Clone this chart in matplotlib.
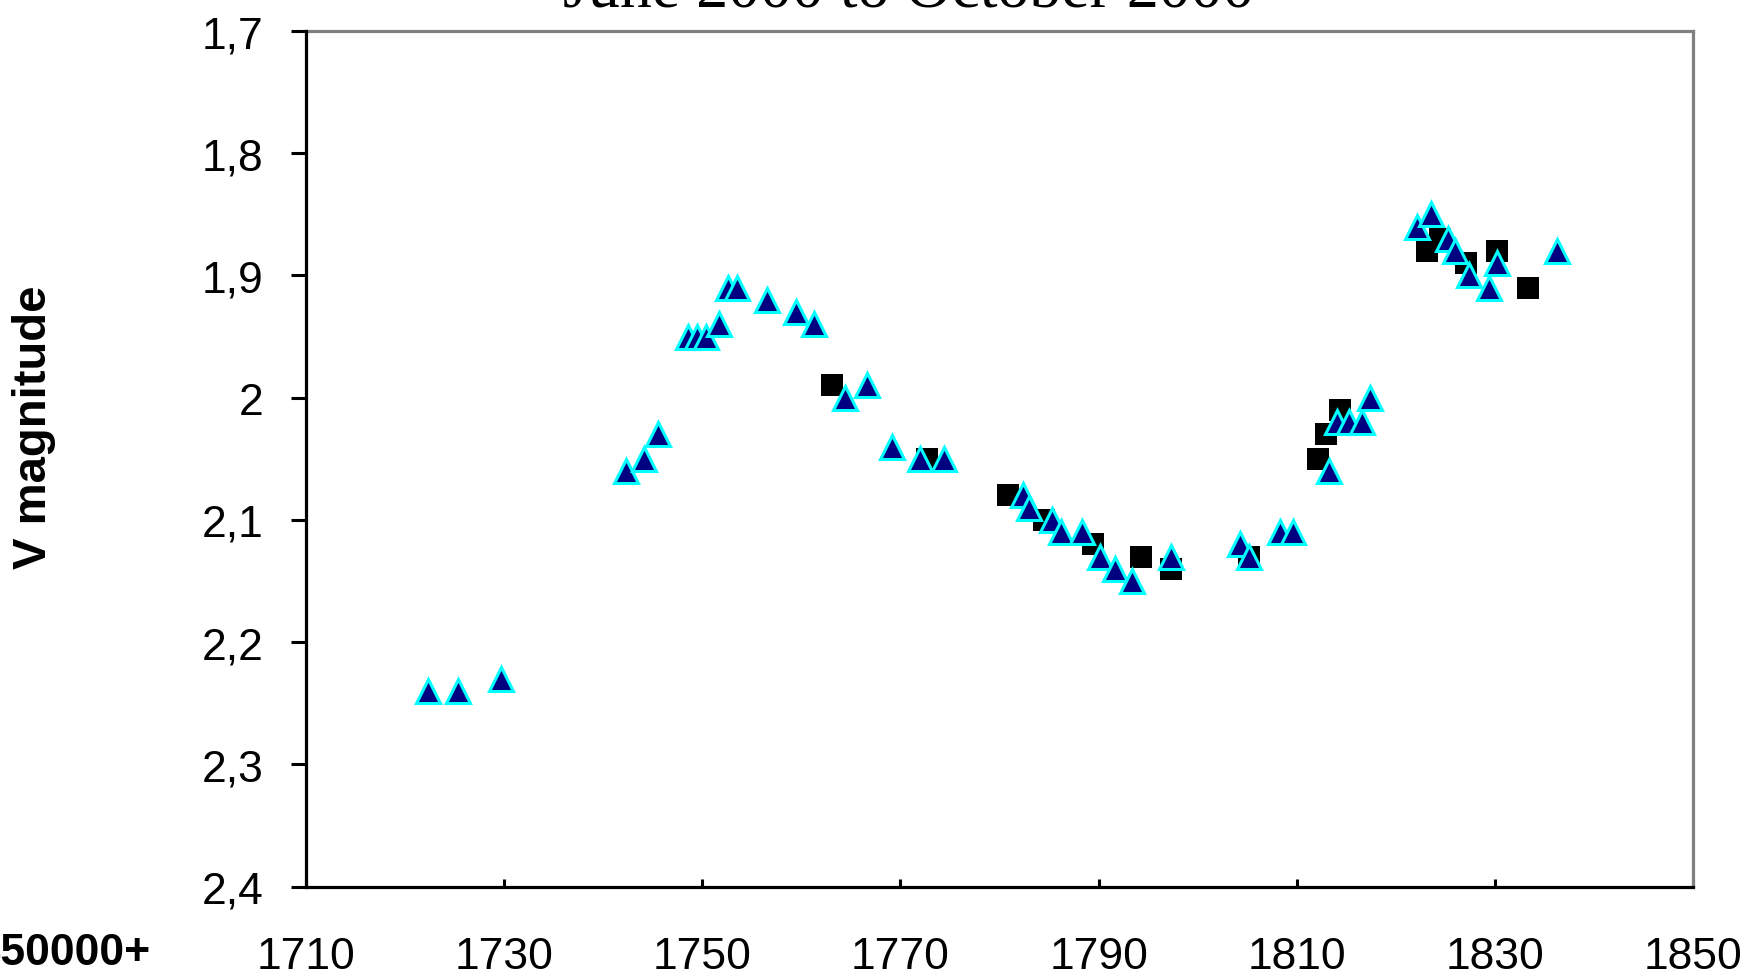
import matplotlib
matplotlib.use("Agg")
import matplotlib.pyplot as plt
from matplotlib.ticker import FuncFormatter, MultipleLocator

# Data (JD - 2450000, V magnitude)
tri_jd = [1722.3, 1725.3, 1729.7, 1742.3, 1744.1, 1745.5, 1748.6, 1749.5, 1750.4,
          1751.7, 1752.6, 1753.5, 1756.5, 1759.5, 1761.3, 1764.4, 1766.6, 1769.1,
          1772.0, 1774.4, 1782.4, 1783.0, 1785.3, 1786.2, 1788.3, 1790.1, 1791.7,
          1793.4, 1797.3, 1804.3, 1805.2, 1808.3, 1809.6, 1813.3, 1814.1, 1815.3,
          1816.6, 1817.4, 1822.1, 1823.6, 1825.3, 1826.0, 1827.4, 1829.4, 1830.2,
          1836.3]
tri_mag = [2.24, 2.24, 2.23, 2.06, 2.05, 2.03, 1.95, 1.95, 1.95,
           1.94, 1.91, 1.91, 1.92, 1.93, 1.94, 2.00, 1.99, 2.04,
           2.05, 2.05, 2.08, 2.09, 2.10, 2.11, 2.11, 2.13, 2.14,
           2.15, 2.13, 2.12, 2.13, 2.11, 2.11, 2.06, 2.02, 2.02,
           2.02, 2.00, 1.86, 1.85, 1.87, 1.88, 1.90, 1.91, 1.89,
           1.88]

sq_jd = [1763.1, 1772.7, 1780.9, 1784.5, 1789.4, 1794.3, 1797.3, 1805.2, 1812.1,
         1813.0, 1814.4, 1823.2, 1824.5, 1827.1, 1830.2, 1833.3]
sq_mag = [1.99, 2.05, 2.08, 2.10, 2.12, 2.13, 2.14, 2.13, 2.05,
          2.03, 2.01, 1.88, 1.87, 1.89, 1.88, 1.91]

x_ticks = [1710, 1730, 1750, 1770, 1790, 1810, 1830, 1850]
y_ticks = [1.7, 1.8, 1.9, 2.0, 2.1, 2.2, 2.3, 2.4]

title_text = "June 2000 to October 2000"
ylabel_text = "V magnitude"
xoffset_text = "2450000+"

W, H = 1748, 978
fig = plt.figure(figsize=(W / 100, H / 100), dpi=100)
ax = fig.add_axes([306 / W, 1 - 887.5 / H, (1693 - 306) / W, (887.5 - 32) / H])

ax.plot(sq_jd, sq_mag, linestyle="none", marker="s", markersize=15.8,
        markerfacecolor="black", markeredgecolor="black", markeredgewidth=0,
        zorder=3, clip_on=False)
ax.plot(tri_jd, tri_mag, linestyle="none", marker="^", markersize=17,
        markerfacecolor="#000080", markeredgecolor="#00FFFF", markeredgewidth=2.2,
        zorder=4, clip_on=False)

ax.set_xlim(1710, 1850)
ax.set_ylim(2.4, 1.7)
ax.set_xticks(x_ticks)
ax.set_yticks(y_ticks)

def yfmt(v, pos):
    s = "%.1f" % v
    if s.endswith(".0"):
        s = s[:-2]
    return s.replace(".", ",")

ax.yaxis.set_major_formatter(FuncFormatter(yfmt))
ax.xaxis.set_major_formatter(FuncFormatter(lambda v, p: "%d" % round(v)))

ax.tick_params(axis="y", direction="out", length=10.8, width=2.2, pad=20,
               labelsize=32, colors="black")
ax.tick_params(axis="x", direction="in", length=6, width=2.2, pad=36,
               labelsize=32, colors="black")
for lab in ax.get_xticklabels() + ax.get_yticklabels():
    lab.set_fontfamily(["Liberation Sans", "DejaVu Sans"])

for side in ["left", "bottom"]:
    ax.spines[side].set_color("black")
    ax.spines[side].set_linewidth(2.3)
    ax.spines[side].set_zorder(5)
for side in ["top", "right"]:
    ax.spines[side].set_color("#808080")
    ax.spines[side].set_linewidth(2.3)

fig.text(908.5 / W, 1 - 8 / H, title_text, ha="center", va="baseline",
         fontsize=46, family=["Liberation Serif", "DejaVu Serif"])
fig.text(34.5 / W, 1 - 427 / H, ylabel_text, ha="center", va="center",
         rotation=90, fontsize=34, fontweight="bold",
         family=["Liberation Sans", "DejaVu Sans"])
fig.text(151 / W, 1 - 965 / H, xoffset_text, ha="right", va="baseline",
         fontsize=32, fontweight="bold",
         family=["Liberation Sans", "DejaVu Sans"])

fig.savefig("out.png", dpi=100)
